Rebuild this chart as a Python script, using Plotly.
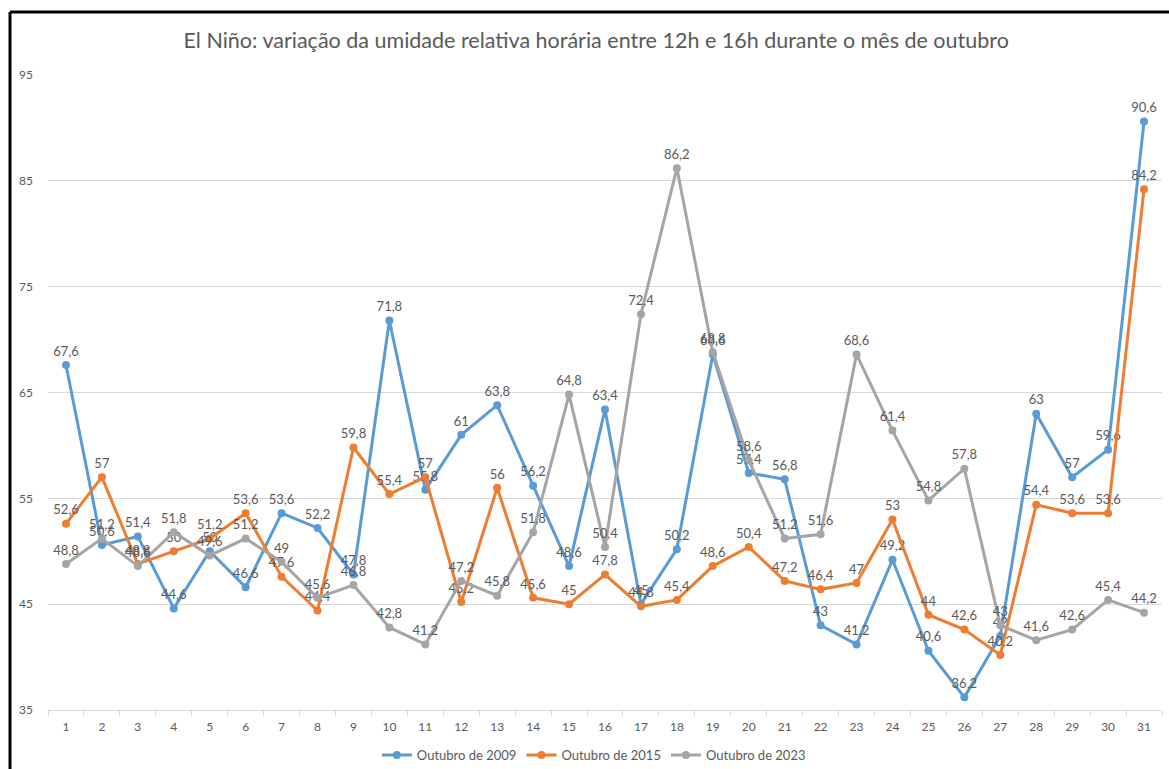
import plotly.graph_objects as go

days = list(range(1, 32))
umid_2009 = [67.6, 50.6, 51.4, 44.6, 50, 46.6, 53.6, 52.2, 47.8, 71.8, 55.8, 61, 63.8, 56.2, 48.6, 63.4,
             45, 50.2, 68.6, 57.4, 56.8, 43, 41.2, 49.2, 40.6, 36.2, 42, 63, 57, 59.6, 90.6]
umid_2015 = [52.6, 57, 48.8, 50, 51.2, 53.6, 47.6, 44.4, 59.8, 55.4, 57, 45.2, 56, 45.6, 45, 47.8,
             44.8, 45.4, 48.6, 50.4, 47.2, 46.4, 47, 53, 44, 42.6, 40.2, 54.4, 53.6, 53.6, 84.2]
umid_2023 = [48.8, 51.2, 48.6, 51.8, 49.6, 51.2, 49, 45.6, 46.8, 42.8, 41.2, 47.2, 45.8, 51.8, 64.8, 50.4,
             72.4, 86.2, 68.8, 58.6, 51.2, 51.6, 68.6, 61.4, 54.8, 57.8, 43, 41.6, 42.6, 45.4, 44.2]
series_names = ["Outubro de 2009", "Outubro de 2015", "Outubro de 2023"]
series_colors = ["#5B9BD5", "#ED7D31", "#A5A5A5"]
title_text = "El Niño: variação da umidade relativa horária entre 12h e 16h durante o mês de outubro"

FONT = "Lato, 'Open Sans', sans-serif"
TXT = "#595959"

def fmt(v):
    return f"{v:g}".replace(".", ",")

fig = go.Figure()
for name, vals, col in zip(series_names, [umid_2009, umid_2015, umid_2023], series_colors):
    fig.add_trace(go.Scatter(
        x=[str(d) for d in days], y=vals, name=name,
        mode="lines+markers+text",
        line=dict(color=col, width=3),
        marker=dict(color=col, size=8),
        text=[fmt(v) for v in vals],
        textposition="top center",
        textfont=dict(family=FONT, size=13, color=TXT),
        cliponaxis=False,
    ))

fig.update_layout(
    width=1169, height=769,
    paper_bgcolor="white", plot_bgcolor="white",
    margin=dict(l=48, r=7, t=75, b=59, autoexpand=False),
    font=dict(family=FONT, color=TXT, size=12),
    title=dict(text=title_text, x=0.51, xanchor="center", y=1 - 40 / 769, yanchor="middle",
               font=dict(family=FONT, size=21.5, color=TXT), automargin=False),
    showlegend=True,
    legend=dict(orientation="h", x=0.49, xanchor="center", y=-0.071, yanchor="middle",
                font=dict(family=FONT, size=13, color=TXT), itemwidth=30,
                tracegroupgap=0, bgcolor="rgba(0,0,0,0)"),
    xaxis=dict(type="category", range=[-0.5, 30.5], showgrid=False, zeroline=False,
               showline=True, linecolor="#d9d9d9", linewidth=1, automargin=False,
               ticks="outside", tickson="boundaries", ticklen=5, tickcolor="#d9d9d9",
               tickfont=dict(family=FONT, size=12, color=TXT), ticklabelstandoff=6),
    yaxis=dict(range=[35, 95], tick0=35, dtick=10, showgrid=True, gridcolor="#d9d9d9",
               gridwidth=1, zeroline=False, showline=False, automargin=False,
               tickfont=dict(family=FONT, size=12, color=TXT), ticklabelstandoff=14),
    shapes=[
        dict(type="line", xref="paper", yref="paper", x0=-38 / 1114, x1=1.01, y0=1 + 63 / 635, y1=1 + 63 / 635,
             line=dict(color="black", width=3)),
        dict(type="line", xref="paper", yref="paper", x0=-38 / 1114, x1=-38 / 1114, y0=1 + 63 / 635, y1=-0.1,
             line=dict(color="black", width=3)),
    ],
)

fig.write_html("out.html", config={"displayModeBar": False},
               post_script="document.body.style.margin='0';")
